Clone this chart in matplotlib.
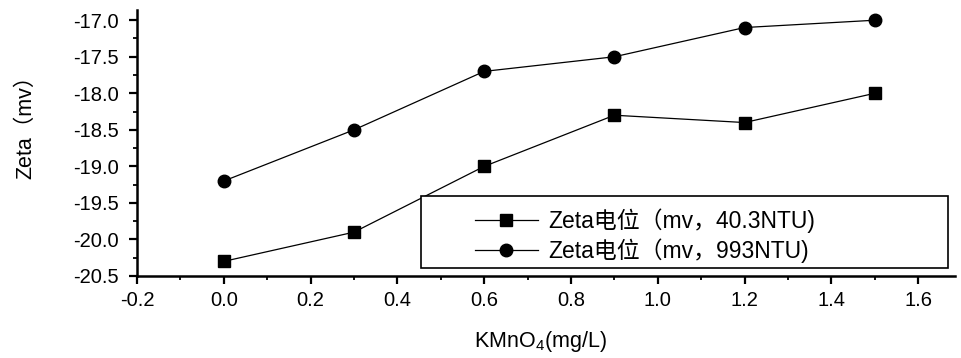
import matplotlib.pyplot as plt
from matplotlib.patches import Rectangle

plt.rcParams['font.family'] = ['Liberation Sans', 'Noto Sans CJK SC', 'DejaVu Sans']
plt.rcParams['mathtext.fontset'] = 'custom'
plt.rcParams['mathtext.rm'] = 'Liberation Sans'
plt.rcParams['mathtext.it'] = 'Liberation Sans'

# KMnO4 dosage (mg/L) and zeta potential for the two turbidities
dose = [0.0, 0.3, 0.6, 0.9, 1.2, 1.5]
zeta_40 = [-20.3, -19.9, -19.0, -18.3, -18.4, -18.0]
zeta_993 = [-19.2, -18.5, -17.7, -17.5, -17.1, -17.0]
labels = ['Zeta电位（mv，40.3NTU)', 'Zeta电位（mv，993NTU)']

fig = plt.figure(figsize=(9.61, 3.58), dpi=100)
ax = fig.add_axes([137 / 961, 82 / 358, 818 / 961, 266 / 358])

ax.plot(dose, zeta_40, color='black', lw=0.9, marker='s', ms=8.5, label=labels[0])
ax.plot(dose, zeta_993, color='black', lw=0.9, marker='o', ms=9, label=labels[1])

ax.set_xticks([-0.2, 0.0, 0.2, 0.4, 0.6, 0.8, 1.0, 1.2, 1.4, 1.6])
ax.set_xticks([-0.1, 0.1, 0.3, 0.5, 0.7, 0.9, 1.1, 1.3, 1.5], minor=True)
ax.set_yticks([-20.5, -20.0, -19.5, -19.0, -18.5, -18.0, -17.5, -17.0])
ax.set_yticks([-20.25, -19.75, -19.25, -18.75, -18.25, -17.75, -17.25], minor=True)
ax.set_xlim(-0.2, 1.685)
ax.set_ylim(-20.5, -16.86)
ax.xaxis.set_major_formatter(plt.FormatStrFormatter('%.1f'))
ax.yaxis.set_major_formatter(plt.FormatStrFormatter('%.1f'))

for side in ['top', 'right']:
    ax.spines[side].set_visible(False)
for side in ['left', 'bottom']:
    ax.spines[side].set_linewidth(1.8)
ax.tick_params(which='major', direction='out', length=6, width=1.6, labelsize=14.5)
ax.tick_params(axis='y', which='major', pad=7)
ax.tick_params(axis='x', which='major', pad=5)
ax.tick_params(which='minor', direction='out', length=3, width=1.3)

ax.set_xlabel('KMnO$_4$(mg/L)', fontsize=15.5)
ax.xaxis.set_label_coords(0.493, -0.2)
ax.set_ylabel('Zeta（mv）', fontsize=15.5)
ax.yaxis.set_label_coords(-0.123, 0.58)

# legend box drawn separately so it spans the same width as the original frame
box = Rectangle((0.347, 0.030), 0.644, 0.271, transform=ax.transAxes,
                facecolor='white', edgecolor='black', lw=1.2, zorder=3)
ax.add_patch(box)
leg = ax.legend(loc='center left', bbox_to_anchor=(0.413, 0.152), fontsize=16.5,
                frameon=False, handlelength=2.75, borderpad=0, labelspacing=0.25,
                borderaxespad=0, handletextpad=0.45)
leg.set_zorder(4)

plt.savefig('out.png', dpi=100)
